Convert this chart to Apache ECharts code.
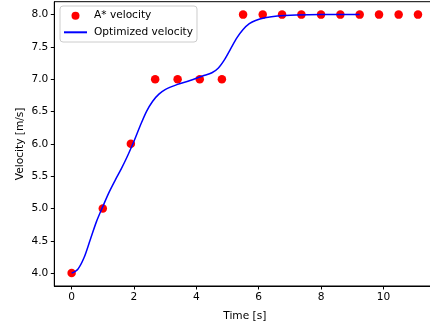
<!DOCTYPE html>
<html>
<head>
<meta charset="utf-8">
<script src="https://cdn.jsdelivr.net/npm/echarts@6/dist/echarts.min.js"></script>
<style>html,body{margin:0;padding:0;background:#fff}#c{width:430px;height:321px}</style>
</head>
<body>
<div id="c"></div>
<script>
// A* velocity points
var astarT = [0, 1.0, 1.9, 2.68, 3.4, 4.11, 4.82, 5.5, 6.13, 6.75, 7.37, 8.0, 8.62, 9.24, 9.86, 10.49, 11.11];
var astarV = [4, 5, 6, 7, 7, 7, 7, 8, 8, 8, 8, 8, 8, 8, 8, 8, 8];
// Optimized velocity curve
var lineT = [0.0, 0.2, 0.4, 0.6, 0.8, 1.0, 1.2, 1.4, 1.6, 1.8, 2.0, 2.2, 2.4, 2.6, 2.8, 3.0, 3.4, 3.8, 4.2, 4.5, 4.7, 4.9, 5.1, 5.3, 5.5, 5.7, 5.9, 6.2, 6.6, 7.2, 8.0, 9.24];
var lineV = [4.00, 4.06, 4.24, 4.52, 4.80, 5.03, 5.25, 5.44, 5.62, 5.82, 6.04, 6.28, 6.50, 6.66, 6.77, 6.84, 6.92, 6.98, 7.05, 7.10, 7.17, 7.30, 7.47, 7.64, 7.77, 7.86, 7.91, 7.95, 7.98, 7.995, 8.0, 8.0];
// Tick labels
var xTicks = [0, 2, 4, 6, 8, 10];
var yTicks = [4.0, 4.5, 5.0, 5.5, 6.0, 6.5, 7.0, 7.5, 8.0];

var FONT = 'DejaVu Sans';
var FS = 10.6;
var chart = echarts.init(document.getElementById('c'), null, {renderer: 'canvas'});
var scatterData = astarT.map(function (t, i) { return [t, astarV[i]]; });
var lineData = lineT.map(function (t, i) { return [t, lineV[i]]; });

chart.setOption({
  animation: false,
  backgroundColor: '#fff',
  grid: {left: 54.3, top: 1.7, width: 381, height: 284.3, outerBoundsMode: 'none', containLabel: false, show: true, borderColor: '#000', borderWidth: 1, backgroundColor: 'transparent'},
  legend: {
    orient: 'vertical', left: 60, top: 6,
    padding: [3.2, 4, 3.2, 3],
    itemWidth: 23, itemHeight: 8, itemGap: 3.6,
    backgroundColor: 'rgba(255,255,255,0.8)', borderColor: '#cccccc', borderWidth: 1, borderRadius: 3,
    textStyle: {fontFamily: FONT, fontSize: FS, color: '#000', lineHeight: 13, padding: [0, 0, 0, 2]},
    data: [
      {name: 'A* velocity', icon: 'circle'},
      {name: 'Optimized velocity', itemStyle: {opacity: 0, color: 'transparent', borderWidth: 0}}
    ]
  },
  xAxis: {
    type: 'value', min: -0.5555, max: 11.6655,
    name: 'Time [s]', nameLocation: 'middle', nameGap: 25, nameMoveOverlap: false,
    nameTextStyle: {fontFamily: FONT, fontSize: FS, color: '#000'},
    axisLine: {show: true, onZero: false, lineStyle: {color: '#000', width: 1}},
    axisTick: {show: true, length: 3.5, lineStyle: {color: '#000'}, customValues: xTicks},
    axisLabel: {fontFamily: FONT, fontSize: FS, color: '#000', margin: 6, customValues: xTicks, formatter: function (v) { return String(v); }},
    splitLine: {show: false}
  },
  yAxis: {
    type: 'value', min: 3.8, max: 8.2,
    name: 'Velocity [m/s]', nameLocation: 'middle', nameGap: 28.3, nameRotate: 90, nameMoveOverlap: false,
    nameTextStyle: {fontFamily: FONT, fontSize: FS, color: '#000'},
    axisLine: {show: true, onZero: false, lineStyle: {color: '#000', width: 1}},
    axisTick: {show: true, length: 3.5, lineStyle: {color: '#000'}, customValues: yTicks},
    axisLabel: {fontFamily: FONT, fontSize: FS, color: '#000', margin: 6, customValues: yTicks, formatter: function (v) { return v.toFixed(1); }},
    splitLine: {show: false}
  },
  series: [
    {
      name: 'A* velocity', type: 'scatter', data: scatterData,
      symbol: 'circle', symbolSize: 8.5, z: 3,
      itemStyle: {color: '#ff0000', opacity: 1}
    },
    {
      name: 'Optimized velocity', type: 'line', data: lineData,
      symbol: 'none', showSymbol: false, smooth: 0.3, z: 4,
      lineStyle: {color: '#0000ff', width: 1.5},
      itemStyle: {color: '#0000ff'}
    }
  ]
});
</script>
</body>
</html>
